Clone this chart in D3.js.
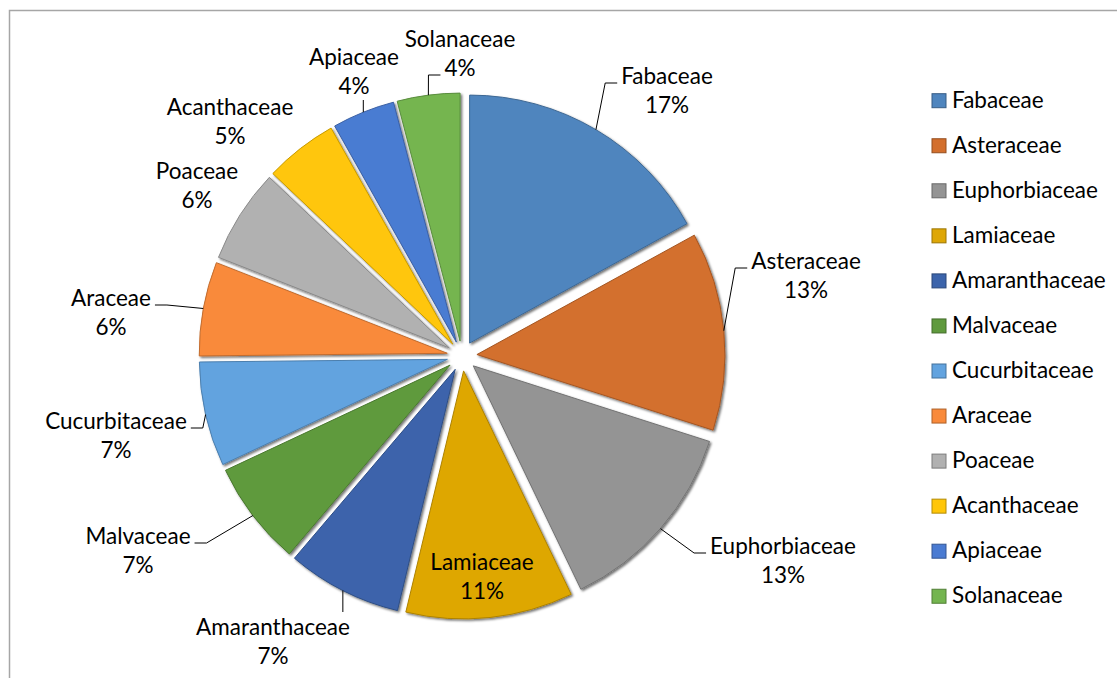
<!DOCTYPE html>
<html><head><meta charset="utf-8">
<script src="https://cdn.jsdelivr.net/npm/d3@7"></script>
<style>body{margin:0;background:#fff}svg{display:block}</style>
</head><body>
<svg id="c" width="1117" height="678"></svg>
<script>
// ---- data ----
const families = ["Fabaceae","Asteraceae","Euphorbiaceae","Lamiaceae","Amaranthaceae","Malvaceae","Cucurbitaceae","Araceae","Poaceae","Acanthaceae","Apiaceae","Solanaceae"];
const counts   = [25,19,19,16,11,10,10,9,9,7,6,6];

// ---- styles ----
const colors = ["#4F85BE","#D36F2D","#949494","#DEA706","#3C64AB","#5F9A3D","#62A3DF","#F98A3B","#B1B1B1","#FFC608","#4A7BD2","#74B54F"];

// ---- layout (label line-1 centre offsets from pie centre, leader style) ----
const labelOffsets = [[205,-279],[344,-94],[321,191],[20,207],[-189,272],[-324,181],[-346,66],[-351,-57],[-265,-184],[-232,-248],[-108,-298],[-2,-316]];
const leaderKinds  = ["h0","h0","h0","none","vtop","h0","h0","h0","none","none","vbot","h1"];

const W=1117,H=678, cx=462, cy=356, R=248, explode=15, lineH=29;
const FONT="Lato, 'Open Sans', sans-serif", FS=22.5;
const svg=d3.select("#c");

// border
svg.append("path").attr("d",`M9.5,${H} V10.5 H${W}`).attr("fill","none").attr("stroke","#a6a6a6").attr("stroke-width",1.5);

const defs=svg.append("defs");
const f=defs.append("filter").attr("id","sh").attr("x","-20%").attr("y","-20%").attr("width","140%").attr("height","140%");
f.append("feDropShadow").attr("dx",1.6).attr("dy",1.6).attr("stdDeviation",0.9).attr("flood-color","#000").attr("flood-opacity",0.55);

const total=d3.sum(counts);
const pie=d3.pie().sort(null).value(d=>d)(counts);
const arc=d3.arc().innerRadius(0).outerRadius(R);

const g=svg.append("g").attr("transform",`translate(${cx},${cy})`);
pie.forEach((p,i)=>{
  const mid=(p.startAngle+p.endAngle)/2;
  const tx=Math.sin(mid)*explode, ty=-Math.cos(mid)*explode;
  g.append("path").attr("d",arc(p)).attr("transform",`translate(${tx},${ty})`)
   .attr("fill",colors[i]).attr("stroke",d3.color(colors[i]).darker(0.7)).attr("stroke-width",1)
   .attr("filter","url(#sh)");
});

// labels
const lg=svg.append("g").attr("font-family",FONT).attr("font-size",FS).attr("fill","#000");
const tShift=-2;
pie.forEach((p,i)=>{
  const mid=(p.startAngle+p.endAngle)/2;
  const lx=cx+labelOffsets[i][0], ly=cy+labelOffsets[i][1];
  const pct=Math.round(counts[i]/total*100)+"%";
  const t1=lg.append("text").attr("x",lx).attr("y",ly+tShift).attr("text-anchor","middle").attr("dominant-baseline","central").text(families[i]);
  const t2=lg.append("text").attr("x",lx).attr("y",ly+lineH+tShift).attr("text-anchor","middle").attr("dominant-baseline","central").text(pct);
  const kind=leaderKinds[i];
  if(kind==="none") return;
  const sx=cx+Math.sin(mid)*(R+explode), sy=cy-Math.cos(mid)*(R+explode);
  let pts;
  if(kind[0]==="h"){
    const t= kind==="h1"?t2:t1;
    const w=t.node().getComputedTextLength();
    const yl=(kind==="h1"?ly+lineH:ly)+6;
    const right = lx>sx;
    const edge = right ? lx-w/2 : lx+w/2;
    const dir = right?-1:1;
    pts=[[sx,sy],[edge+dir*16,yl],[edge+dir*4,yl]];
  } else if(kind==="vtop"){
    pts=[[sx,sy],[sx,ly-16]];
  } else {
    pts=[[sx,sy],[sx,ly+lineH+13]];
  }
  svg.append("path").attr("d",d3.line()(pts)).attr("fill","none").attr("stroke","#000").attr("stroke-width",1);
});

// legend
const leg=svg.append("g").attr("font-family",FONT).attr("font-size",FS);
const ly0=100.7, dy=45.05;
families.forEach((name,i)=>{
  const y=ly0+i*dy;
  leg.append("rect").attr("x",932).attr("y",y-7).attr("width",14).attr("height",14)
     .attr("fill",colors[i]).attr("stroke",d3.color(colors[i]).darker(1)).attr("stroke-width",1);
  leg.append("text").attr("x",952).attr("y",y-1.5).attr("dominant-baseline","central").text(name);
});
</script>
</body></html>
